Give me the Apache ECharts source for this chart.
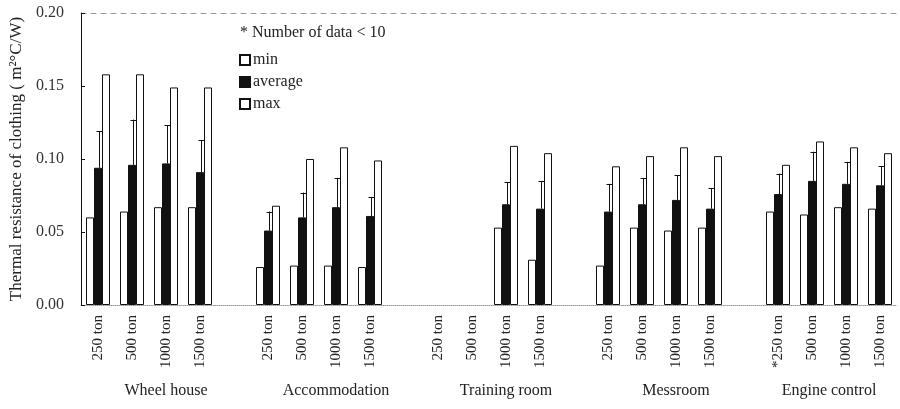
<!DOCTYPE html>
<html>
<head>
<meta charset="utf-8">
<script src="https://cdn.jsdelivr.net/npm/echarts@6/dist/echarts.min.js"></script>
<style>
  html, body { margin: 0; padding: 0; background: #fff; }
  #chart { width: 900px; height: 409px; }
</style>
</head>
<body>
<div id="chart"></div>
<script>
// Room groups and ship sizes
const groups = ['Wheel house', 'Accommodation', 'Training room', 'Messroom', 'Engine control'];
const sizeLabels = [
  ['250 ton', '500 ton', '1000 ton', '1500 ton'],
  ['250 ton', '500 ton', '1000 ton', '1500 ton'],
  ['250 ton', '500 ton', '1000 ton', '1500 ton'],
  ['250 ton', '500 ton', '1000 ton', '1500 ton'],
  ['*250 ton', '500 ton', '1000 ton', '1500 ton']
];
// Where each group name sits along the slot scale (0..24)
const groupLabelPos = [2.5, 7.5, 12.5, 17.5, 22];

// Thermal resistance of clothing, m²°C/W (null = no data)
const minVals = [
  0.060, 0.064, 0.067, 0.067,
  0.026, 0.027, 0.027, 0.026,
  null,  null,  0.053, 0.031,
  0.027, 0.053, 0.051, 0.053,
  0.064, 0.062, 0.067, 0.066
];
const avgVals = [
  0.094, 0.096, 0.097, 0.091,
  0.051, 0.060, 0.067, 0.061,
  null,  null,  0.069, 0.066,
  0.064, 0.069, 0.072, 0.066,
  0.076, 0.085, 0.083, 0.082
];
const sdVals = [
  0.025, 0.031, 0.026, 0.022,
  0.013, 0.017, 0.020, 0.013,
  null,  null,  0.015, 0.019,
  0.019, 0.018, 0.017, 0.014,
  0.014, 0.020, 0.015, 0.013
];
const maxVals = [
  0.158, 0.158, 0.149, 0.149,
  0.068, 0.100, 0.108, 0.099,
  null,  null,  0.109, 0.104,
  0.095, 0.102, 0.108, 0.102,
  0.096, 0.112, 0.108, 0.104
];
const yTicks = [0, 0.05, 0.10, 0.15, 0.20];

// Lay the groups out on one category axis with an empty slot between groups
const categories = [];
const slotMin = [], slotAvg = [], slotMax = [], errData = [];
groups.forEach((g, gi) => {
  if (gi > 0) {
    categories.push('');
    slotMin.push(null); slotAvg.push(null); slotMax.push(null);
  }
  sizeLabels[gi].forEach((s, si) => {
    const k = gi * 4 + si;
    const slot = categories.length;
    categories.push(s);
    slotMin.push(minVals[k]);
    slotAvg.push(avgVals[k]);
    slotMax.push(maxVals[k]);
    if (avgVals[k] != null) errData.push([slot, avgVals[k], avgVals[k] + sdVals[k]]);
  });
});

const serif = '"Liberation Serif", "Times New Roman", serif';
const ink = '#222';

const chart = echarts.init(document.getElementById('chart'), null, { renderer: 'canvas' });

const barBase = {
  type: 'bar',
  xAxisIndex: 0,
  barWidth: 8,
  barGap: '0%',
  animation: false
};

chart.setOption({
  animation: false,
  backgroundColor: '#fff',
  grid: { left: 81, right: -8, top: 13, bottom: 104, containLabel: false },
  legend: {
    data: ['min', 'average', 'max'],
    orient: 'vertical',
    left: 239,
    top: 52,
    padding: 0,
    itemWidth: 10,
    itemHeight: 10,
    itemGap: 6,
    icon: 'rect',
    textStyle: { fontFamily: serif, fontSize: 16, color: ink, padding: [0, 0, 0, -2] }
  },
  graphic: [
    {
      type: 'text',
      left: 240,
      top: 25,
      style: { text: '* Number of data < 10', font: '16px ' + serif, fill: ink }
    }
  ],
  xAxis: [
    {
      type: 'category',
      data: categories,
      position: 'bottom',
      axisLine: { show: true, lineStyle: { color: '#999', type: 'dotted', width: 1 } },
      axisTick: { show: false },
      axisLabel: {
        interval: 0,
        rotate: 90,
        margin: 10,
        fontFamily: serif,
        fontSize: 15,
        color: ink
      },
      splitLine: { show: false }
    },
    {
      // group names under the size labels
      type: 'value',
      min: 0,
      max: 24,
      interval: 0.5,
      position: 'bottom',
      axisLine: { show: false },
      axisTick: { show: false },
      splitLine: { show: false },
      axisLabel: {
        margin: 78,
        fontFamily: serif,
        fontSize: 16,
        color: ink,
        showMinLabel: true,
        showMaxLabel: true,
        formatter: v => {
          const i = groupLabelPos.findIndex(p => Math.abs(p - v) < 1e-6);
          return i >= 0 ? groups[i] : '';
        }
      }
    },
    {
      // top frame line
      type: 'category',
      data: categories,
      position: 'top',
      axisLine: { show: true, lineStyle: { color: '#999', type: [5, 5], width: 1 } },
      axisTick: { show: false },
      axisLabel: { show: false },
      splitLine: { show: false }
    }
  ],
  yAxis: {
    type: 'value',
    min: yTicks[0],
    max: yTicks[yTicks.length - 1],
    interval: 0.05,
    name: 'Thermal resistance of clothing ( m²°C/W)',
    nameLocation: 'middle',
    nameGap: 50,
    nameTextStyle: { fontFamily: serif, fontSize: 17, color: ink },
    axisLine: { show: true, lineStyle: { color: '#111', width: 1 } },
    axisTick: { show: true, inside: true, length: 4, lineStyle: { color: '#111' } },
    axisLabel: {
      margin: 17,
      fontFamily: serif,
      fontSize: 16,
      color: '#333',
      formatter: v => v.toFixed(2)
    },
    splitLine: { show: false }
  },
  series: [
    Object.assign({}, barBase, {
      name: 'min',
      data: slotMin,
      itemStyle: { color: '#fff', borderColor: '#111', borderWidth: 1 }
    }),
    Object.assign({}, barBase, {
      name: 'average',
      data: slotAvg,
      itemStyle: { color: '#111', borderColor: '#111', borderWidth: 1 }
    }),
    Object.assign({}, barBase, {
      name: 'max',
      data: slotMax,
      itemStyle: { color: '#fff', borderColor: '#111', borderWidth: 1 }
    }),
    {
      // standard deviation whiskers on the average bars
      type: 'custom',
      name: 'sd',
      xAxisIndex: 0,
      z: 5,
      data: errData,
      renderItem: (params, api) => {
        const x = api.value(0);
        const lo = api.coord([x, api.value(1)]);
        const hi = api.coord([x, api.value(2)]);
        const cx = Math.round(lo[0] + 1) + 0.5;
        const cap = 3;
        const style = { stroke: '#111', lineWidth: 1 };
        return {
          type: 'group',
          children: [
            { type: 'line', shape: { x1: cx, y1: lo[1], x2: cx, y2: hi[1] }, style },
            { type: 'line', shape: { x1: cx - cap, y1: Math.round(hi[1]) + 0.5, x2: cx + cap, y2: Math.round(hi[1]) + 0.5 }, style }
          ]
        };
      }
    }
  ]
});
</script>
</body>
</html>
